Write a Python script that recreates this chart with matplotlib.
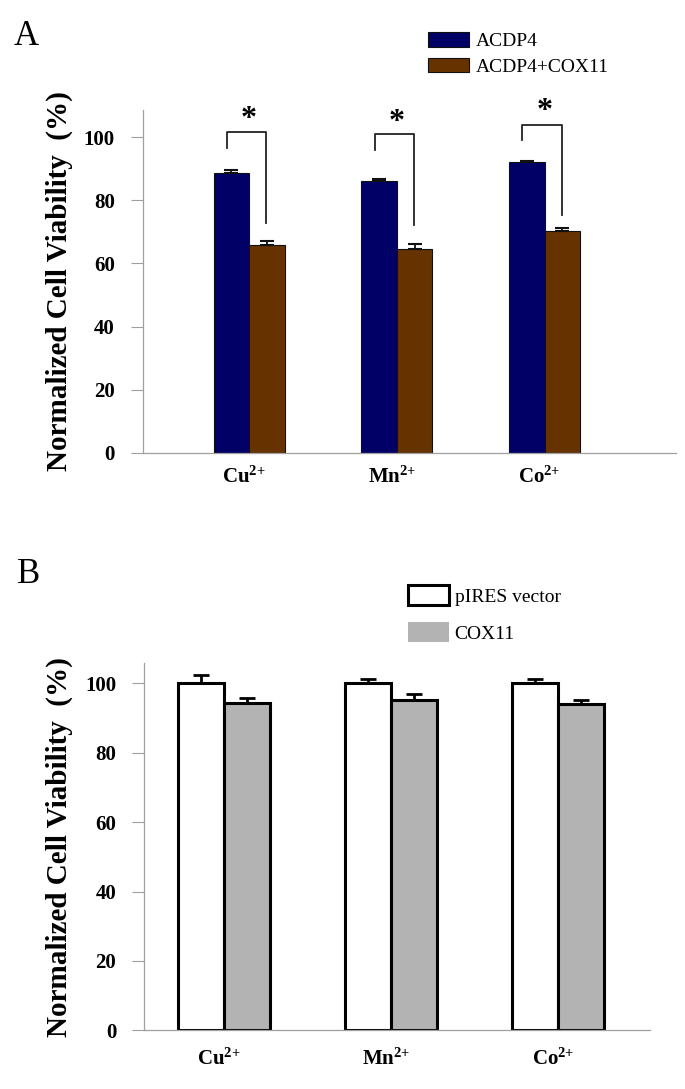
import matplotlib
matplotlib.use("Agg")
import matplotlib.pyplot as plt
from matplotlib.patches import Patch
from matplotlib.transforms import ScaledTranslation
import numpy as np

plt.rcParams['font.family'] = ['Liberation Serif', 'DejaVu Serif']
plt.rcParams['mathtext.fontset'] = 'custom'
plt.rcParams['mathtext.rm'] = 'Liberation Serif'
plt.rcParams['mathtext.bf'] = 'Liberation Serif:bold'
plt.rcParams['mathtext.it'] = 'Liberation Serif:italic'

# ---------------- data ----------------
ions = [r'$\mathbf{Cu^{2{+}}}$', r'$\mathbf{Mn^{2{+}}}$', r'$\mathbf{Co^{2{+}}}$']

# Panel A
a_series = ['ACDP4', 'ACDP4+COX11']
a_acdp4 = [88.7, 86.0, 92.2]
a_acdp4_err = [0.9, 0.9, 0.3]
a_cox11 = [65.7, 64.6, 70.3]
a_cox11_err = [1.4, 1.5, 1.0]
# significance brackets (value of top line, left leg bottom, right leg bottom, star)
a_sig_top = [101.5, 101.0, 104.0]
a_sig_left = [96.7, 95.9, 99.1]
a_sig_right = [72.9, 72.3, 75.2]
a_sig_star = [105.6, 104.8, 108.1]

# Panel B
b_series = ['pIRES vector', 'COX11']
b_vector = [100.0, 100.0, 100.0]
b_vector_err = [2.5, 1.2, 1.3]
b_cox11 = [94.5, 95.2, 94.0]
b_cox11_err = [1.2, 1.9, 1.2]

yticks = [0, 20, 40, 60, 80, 100]
ylabel = 'Normalized Cell Viability  (%)'

# ---------------- figure ----------------
W, H = 685, 1089
fig = plt.figure(figsize=(W / 100, H / 100), dpi=100)

def fx(px):
    return px / W

def fy(py):
    return 1 - py / H

navy = '#000066'
brown = '#663300'
grey = '#b3b3b3'
spine_c = '#a0a0a0'

def style_axes(ax, xpad):
    for s in ['top', 'right']:
        ax.spines[s].set_visible(False)
    ax.spines['left'].set_color(spine_c)
    ax.spines['bottom'].set_color(spine_c)
    ax.spines['left'].set_linewidth(0.9)
    ax.spines['bottom'].set_linewidth(0.9)
    ax.set_yticks(yticks)
    ax.set_yticklabels([str(t) for t in yticks], fontsize=15, fontweight='bold')
    ax.tick_params(axis='y', length=9, width=0.8, color=spine_c, pad=11)
    ax.tick_params(axis='x', length=0, pad=xpad)
    ax.set_xticks(np.arange(len(ions)))
    ax.set_xticklabels(ions, fontsize=15)
    shift = ScaledTranslation(-5 / 100, 0, fig.dpi_scale_trans)
    for lab in ax.get_xticklabels():
        lab.set_transform(lab.get_transform() + shift)

# ---------- Panel A ----------
axA = fig.add_axes([fx(142.7), fy(453), fx(676) - fx(142.7), fy(110) - fy(453)])
x = np.arange(len(ions))
wA = 0.24
axA.bar(x - wA / 2, a_acdp4, wA, color=navy, edgecolor='#111111', linewidth=0.8, label=a_series[0], zorder=2)
axA.bar(x + wA / 2, a_cox11, wA, color=brown, edgecolor='#111111', linewidth=0.8, label=a_series[1], zorder=2)
axA.errorbar(x - wA / 2, a_acdp4, yerr=[np.zeros(3), a_acdp4_err], fmt='none', ecolor='#111111',
             elinewidth=1.3, capsize=5, capthick=1.5, zorder=3)
axA.errorbar(x + wA / 2, a_cox11, yerr=[np.zeros(3), a_cox11_err], fmt='none', ecolor='#111111',
             elinewidth=1.3, capsize=5, capthick=1.5, zorder=3)
for i in range(len(ions)):
    xl = x[i] - 0.15
    xr = x[i] + 0.115
    axA.plot([xl, xl, xr, xr], [a_sig_left[i], a_sig_top[i], a_sig_top[i], a_sig_right[i]],
             color='#222222', lw=1.3, clip_on=False, zorder=3)
    axA.text(x[i], a_sig_star[i], '*', ha='center', va='center', fontsize=23,
             fontweight='bold', clip_on=False)
axA.set_xlim(-0.72, 2.89)
axA.set_ylim(0, 108.6)
style_axes(axA, 10)
axA.set_ylabel(ylabel, fontsize=21, fontweight='bold', va='center', rotation_mode='anchor')
axA.yaxis.set_label_coords((59 - 142.7) / (676 - 142.7), 0.5)

hA = [Patch(facecolor=navy, edgecolor='#111111', linewidth=0.8),
      Patch(facecolor=brown, edgecolor='#111111', linewidth=0.8)]
fig.legend(hA, a_series, loc='upper left', bbox_to_anchor=(fx(428), fy(32)), frameon=False,
           fontsize=14, handlelength=2.1, handleheight=0.8, handletextpad=0.36,
           labelspacing=0.38, borderpad=0, borderaxespad=0)
fig.text(fx(14), fy(45), 'A', fontsize=25, ha='left', va='baseline')

# ---------- Panel B ----------
axB = fig.add_axes([fx(144), fy(1030.3), fx(650) - fx(144), fy(663) - fy(1030.3)])
wB = 0.276
axB.bar(x - wB / 2, b_vector, wB, color='white', edgecolor='black', linewidth=2.2, label=b_series[0], zorder=2)
axB.bar(x + wB / 2, b_cox11, wB, color=grey, edgecolor='black', linewidth=2.2, label=b_series[1], zorder=2)
axB.errorbar(x - wB / 2, b_vector, yerr=[np.zeros(3), b_vector_err], fmt='none', ecolor='black',
             elinewidth=2.0, capsize=5.5, capthick=2.0, zorder=3)
axB.errorbar(x + wB / 2, b_cox11, yerr=[np.zeros(3), b_cox11_err], fmt='none', ecolor='black',
             elinewidth=2.0, capsize=5.5, capthick=2.0, zorder=3)
axB.set_xlim(-0.48, 2.55)
axB.set_ylim(0, 105.9)
style_axes(axB, 13)
axB.set_ylabel(ylabel, fontsize=21, fontweight='bold', va='center', rotation_mode='anchor')
axB.yaxis.set_label_coords((59 - 144) / (650 - 144), 0.5)

hB = [Patch(facecolor='white', edgecolor='black', linewidth=2.2),
      Patch(facecolor=grey, edgecolor='none')]
fig.legend(hB, b_series, loc='upper left', bbox_to_anchor=(fx(408), fy(585)), frameon=False,
           fontsize=14, handlelength=2.1, handleheight=1.2, handletextpad=0.3,
           labelspacing=0.85, borderpad=0, borderaxespad=0)
fig.text(fx(17), fy(583), 'B', fontsize=25, ha='left', va='baseline')

fig.savefig('out.png', dpi=100)
